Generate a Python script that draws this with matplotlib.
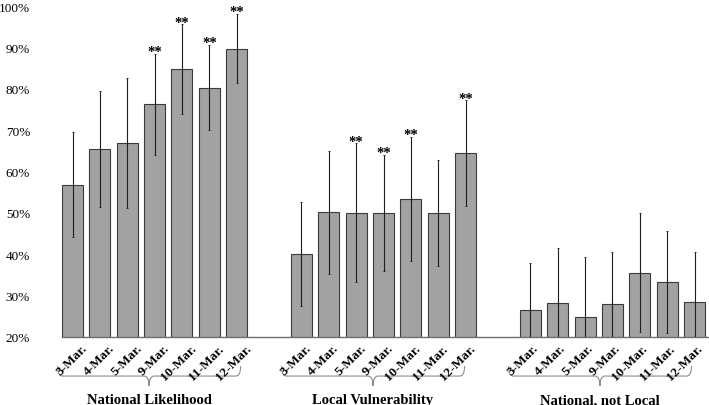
import matplotlib
matplotlib.use("Agg")
import matplotlib.pyplot as plt
from matplotlib.path import Path
from matplotlib.patches import PathPatch
from matplotlib.transforms import ScaledTranslation, blended_transform_factory
import numpy as np

# data (percent)
dates = ["3-Mar.", "4-Mar.", "5-Mar.", "9-Mar.", "10-Mar.", "11-Mar.", "12-Mar."]
groups = ["National Likelihood", "Local Vulnerability", "National, not Local"]

national_likelihood = [56.8, 65.4, 66.9, 76.2, 84.7, 80.3, 89.7]
local_vulnerability = [40.0, 50.1, 50.0, 50.0, 53.4, 50.0, 64.4]
national_not_local = [26.5, 28.1, 24.9, 27.9, 35.5, 33.2, 28.4]

err_national_likelihood = [12.7, 14.0, 15.8, 12.2, 10.9, 10.3, 8.4]
err_local_vulnerability = [12.6, 14.8, 16.8, 14.1, 15.0, 12.9, 12.8]
err_national_not_local = [11.4, 13.4, 14.4, 12.6, 14.4, 12.3, 12.1]

# "**" markers (True = significant)
sig_national_likelihood = [False, False, False, True, True, True, True]
sig_local_vulnerability = [False, False, True, True, True, False, True]
sig_national_not_local = [False] * 7

series = [national_likelihood, local_vulnerability, national_not_local]
errors = [err_national_likelihood, err_local_vulnerability, err_national_not_local]
sigs = [sig_national_likelihood, sig_local_vulnerability, sig_national_not_local]

plt.rcParams["font.family"] = ["Liberation Serif", "DejaVu Serif"]

fig = plt.figure(figsize=(7.09, 4.06), dpi=100)
ax = fig.add_axes([62 / 709, 1 - 338 / 406, 1 - 62 / 709, 331 / 406])

GROUP_STEP = 8.37
BAR_W = 0.77
SLOT_PX = 27.35
# the date labels drift a little left of the bars from group to group (px)
LABEL_SHIFT = [13, 8, 6]

trans = blended_transform_factory(ax.transData, ax.transAxes)

for g, (vals, errs, sig) in enumerate(zip(series, errors, sigs)):
    x = np.arange(len(vals)) + g * GROUP_STEP
    ax.bar(x, vals, width=BAR_W, color="#a2a2a2", edgecolor="#3a3a3a", linewidth=0.8, zorder=2)
    ax.errorbar(x, vals, yerr=errs, fmt="none", ecolor="#1e1e1e", elinewidth=0.8,
                capsize=1, capthick=0.6, zorder=3)
    for xi, v, e, s in zip(x, vals, errs, sig):
        if s:
            ax.annotate("**", (xi, v + e), xytext=(0, -1), textcoords="offset points",
                        ha="center", va="baseline", fontsize=10.5, fontweight="bold")

    # rotated date labels
    shift = LABEL_SHIFT[g]
    label_trans = trans + ScaledTranslation((shift - 4.5) / 100, -5 / 100, fig.dpi_scale_trans)
    for xi, d in zip(x, dates):
        ax.text(xi, 0, d, transform=label_trans, rotation=45, ha="right", va="top",
                rotation_mode="anchor", fontsize=9.5, fontweight="bold")

    # brace + group label under the dates
    left = x[0] + (shift - 28) / SLOT_PX
    right = x[-1] + (shift - 9) / SLOT_PX
    mid = (left + right) / 2
    top, hline, low = -0.088, -0.118, -0.148
    r = 0.18
    verts = [
        (left, top), (left, hline), (left + r, hline),
        (mid - r, hline),
        (mid, hline), (mid, low),
        (mid, hline), (mid + r, hline),
        (right - r, hline),
        (right, hline), (right, top),
    ]
    codes = [Path.MOVETO, Path.CURVE3, Path.CURVE3, Path.LINETO,
             Path.CURVE3, Path.CURVE3, Path.CURVE3, Path.CURVE3,
             Path.LINETO, Path.CURVE3, Path.CURVE3]
    ax.add_patch(PathPatch(Path(verts, codes), transform=trans, fill=False,
                           edgecolor="#8c8c8c", linewidth=0.8, clip_on=False))
    ax.text(mid, -0.19, groups[g], transform=trans, ha="center", va="center",
            fontsize=10.5, fontweight="bold")

ax.set_xticks([])
ax.set_xlim(-BAR_W / 2, 23.27)
ax.set_ylim(20, 100)
ax.set_yticks(np.arange(20, 101, 10))
ax.set_yticklabels([f"{t}%" for t in range(20, 101, 10)], fontsize=9.5)
ax.tick_params(axis="y", length=0, pad=23)

for side in ["top", "right", "left"]:
    ax.spines[side].set_visible(False)
ax.spines["bottom"].set_color("#6e6e6e")
ax.spines["bottom"].set_linewidth(1.0)

fig.savefig("out.png", dpi=100)
